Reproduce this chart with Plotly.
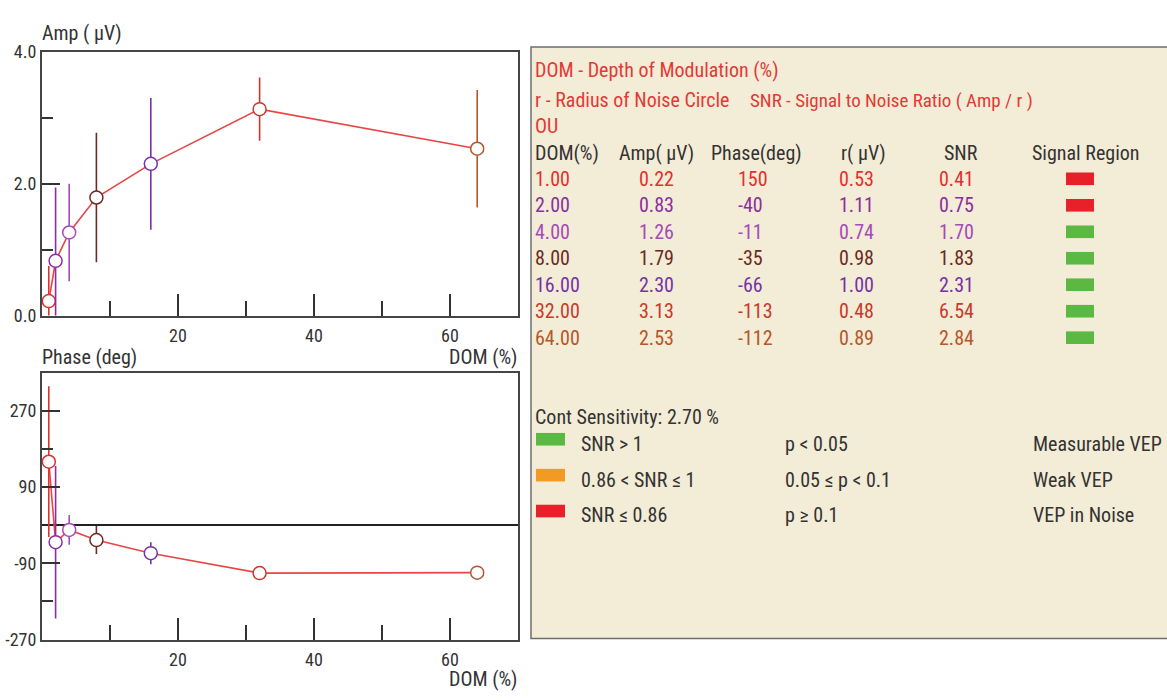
import plotly.graph_objects as go

# Sweep VEP results, OU
dom = [1, 2, 4, 8, 16, 32, 64]                      # depth of modulation (%)
amp = [0.22, 0.83, 1.26, 1.79, 2.30, 3.13, 2.53]    # amplitude (µV)
phase = [150, -40, -11, -35, -66, -113, -112]       # phase (deg)
radius = [0.53, 1.11, 0.74, 0.98, 1.00, 0.48, 0.89] # noise circle radius (µV)
snr = [0.41, 0.75, 1.70, 1.83, 2.31, 6.54, 2.84]
phase_err = [178, 180, 35, 33, 26, 0, 0]            # phase spread (deg)
row_colors = ["#e2302e", "#8b2f9f", "#a64ab8", "#6c2a22", "#7632a6", "#c8392c", "#b5562b"]

x_ticks = [20, 40, 60]
x_minor = [10, 30, 50]
amp_ticks = [0, 2, 4]
amp_minor = [1, 3]
phase_ticks = [-270, -90, 90, 270]
phase_tick_text = ["-270", "-90", "90", "270"]
phase_minor = [-180, 180]

cont_sensitivity = "2.70"
legend_rows = [
    ("#5bb842", "SNR &gt; 1", "p &lt; 0.05", "Measurable VEP"),
    ("#f39a22", "0.86 &lt; SNR ≤ 1", "0.05 ≤ p &lt; 0.1", "Weak VEP"),
    ("#e8202a", "SNR ≤ 0.86", "p ≥ 0.1", "VEP in Noise"),
]

W, H = 1167, 700
FONT = "Liberation Sans Narrow, Arial Narrow, Roboto Condensed, Roboto, sans-serif"
LINE_RED = "#e84545"


def px(x):
    return x / W


def py(y):
    return 1 - y / H


fig = go.Figure()

# amplitude panel
fig.add_trace(go.Scatter(x=dom, y=amp, mode="lines", line=dict(color=LINE_RED, width=1.6),
                         xaxis="x", yaxis="y", hoverinfo="skip"))
for i in range(len(dom)):
    fig.add_trace(go.Scatter(
        x=[dom[i]], y=[amp[i]], mode="markers", xaxis="x", yaxis="y",
        marker=dict(symbol="circle", size=13, color="white", line=dict(color=row_colors[i], width=1.5)),
        error_y=dict(type="data", array=[radius[i]], color=row_colors[i], thickness=1.6, width=0),
    ))

# phase panel
fig.add_trace(go.Scatter(x=dom, y=phase, mode="lines", line=dict(color=LINE_RED, width=1.6),
                         xaxis="x2", yaxis="y2", hoverinfo="skip"))
for i in range(len(dom)):
    fig.add_trace(go.Scatter(
        x=[dom[i]], y=[phase[i]], mode="markers", xaxis="x2", yaxis="y2",
        marker=dict(symbol="circle", size=13, color="white", line=dict(color=row_colors[i], width=1.5)),
        error_y=dict(type="data", array=[phase_err[i]], color=row_colors[i], thickness=1.6, width=0,
                     visible=phase_err[i] > 0),
    ))

axis_common = dict(showline=True, linecolor="#454545", linewidth=2, mirror=True, showgrid=False,
                   ticks="inside", tickcolor="#333333", tickwidth=1.5,
                   tickfont=dict(family=FONT, size=18, color="#333333"))

x_dom = [px(42), px(518)]
fig.update_layout(
    width=W, height=H, margin=dict(l=0, r=0, t=0, b=0),
    paper_bgcolor="white", plot_bgcolor="white", showlegend=False,
    xaxis=dict(domain=x_dom, range=[0, 70], anchor="y", tickmode="array", tickvals=x_ticks,
               ticklen=22, zeroline=False, ticklabelstandoff=3,
               minor=dict(tickmode="array", tickvals=x_minor, ticks="inside", ticklen=15,
                          tickcolor="#333333", tickwidth=1.5), **axis_common),
    yaxis=dict(domain=[py(314), py(42)], range=[0, 4], anchor="x", tickmode="array",
               tickvals=amp_ticks, tickformat=".1f", ticklen=18, zeroline=False,
               minor=dict(tickmode="array", tickvals=amp_minor, ticks="inside", ticklen=11,
                          tickcolor="#333333", tickwidth=1.5), **axis_common),
    xaxis2=dict(domain=x_dom, range=[0, 70], anchor="y2", tickmode="array", tickvals=x_ticks,
                ticklen=22, zeroline=False, ticklabelstandoff=3,
                minor=dict(tickmode="array", tickvals=x_minor, ticks="inside", ticklen=15,
                           tickcolor="#333333", tickwidth=1.5), **axis_common),
    yaxis2=dict(domain=[py(648), py(373)], range=[-270, 360], anchor="x2", tickmode="array",
                tickvals=phase_ticks, ticktext=phase_tick_text, ticklen=18, zeroline=True,
                zerolinecolor="#222222", zerolinewidth=1.5,
                minor=dict(tickmode="array", tickvals=phase_minor, ticks="inside", ticklen=11,
                           tickcolor="#333333", tickwidth=1.5), **axis_common),
)

annotations = []
shapes = []


def label(x, y, text, color="#333333", size=19, anchor="left"):
    annotations.append(dict(x=px(x), y=py(y), xref="paper", yref="paper", text=text,
                            showarrow=False, xanchor=anchor, yanchor="middle",
                            font=dict(family=FONT, size=size, color=color)))


# axis captions
label(40, 23, "Amp ( µV)", size=20)
label(519, 357, "DOM (%)", size=20, anchor="right")
label(40, 357, "Phase (deg)", size=20)
label(519, 689, "DOM (%)", size=20, anchor="right")

# results panel
shapes.append(dict(type="rect", xref="paper", yref="paper", x0=px(531), x1=1.01, y0=py(647), y1=py(37),
                   fillcolor="#f3ecd6", line=dict(color="#6e6e6e", width=1.5), layer="below"))

TITLE_RED = "#e23a36"
label(533, 61, "DOM - Depth of Modulation (%)", TITLE_RED, 20)
label(533, 92, "r - Radius of Noise Circle", TITLE_RED, 20)
label(748, 92, "SNR - Signal to Noise Ratio ( Amp / r )", TITLE_RED, 19)
label(533, 119, "OU", TITLE_RED, 20)

headers = ["DOM(%)", "Amp( µV)", "Phase(deg)", "r( µV)", "SNR", "Signal Region"]
header_x = [533, 617, 709, 839, 942, 1030]
for hx, ht in zip(header_x, headers):
    label(hx, 146, ht, "#333333", 20)

row_y0, row_step = 173, 27.3
col_x = [533, 637, 736, 837, 937]
for i in range(len(dom)):
    y = row_y0 + i * row_step
    cells = [f"{dom[i]:.2f}", f"{amp[i]:.2f}", f"{phase[i]}", f"{radius[i]:.2f}", f"{snr[i]:.2f}"]
    for cx, ct in zip(col_x, cells):
        label(cx, y, ct, row_colors[i], 20)
    if snr[i] > 1:
        box = legend_rows[0][0]
    elif snr[i] > 0.86:
        box = legend_rows[1][0]
    else:
        box = legend_rows[2][0]
    shapes.append(dict(type="rect", xref="paper", yref="paper", x0=px(1066), x1=px(1094),
                       y0=py(y + 6.5), y1=py(y - 6.5), fillcolor=box, line=dict(width=0)))

label(533, 419, f"Cont Sensitivity: {cont_sensitivity} %", "#333333", 20)
for k, (col, a, b, c) in enumerate(legend_rows):
    y = 446 + k * 37
    shapes.append(dict(type="rect", xref="paper", yref="paper", x0=px(536), x1=px(565),
                       y0=py(y + 2), y1=py(y - 11), fillcolor=col, line=dict(width=0)))
    label(579, y, a, "#333333", 20)
    label(783, y, b, "#333333", 20)
    label(1031, y, c, "#333333", 20)

fig.update_layout(annotations=annotations, shapes=shapes)
fig.write_html("out.html", post_script="document.body.style.margin = '0';")
